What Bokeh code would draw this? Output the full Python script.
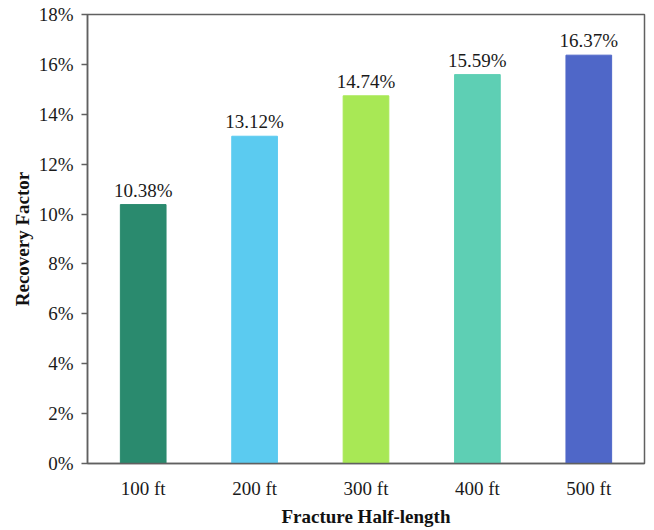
from bokeh.plotting import figure
from bokeh.models import ColumnDataSource, NumeralTickFormatter, FixedTicker
from bokeh.core.properties import value
from bokeh.embed import file_html
from bokeh.resources import INLINE

categories = ["100 ft", "200 ft", "300 ft", "400 ft", "500 ft"]
recovery = [0.1038, 0.1312, 0.1474, 0.1559, 0.1637]
labels = ["10.38%", "13.12%", "14.74%", "15.59%", "16.37%"]
colors = ["#2A8A6E", "#5BCBF0", "#A8E855", "#5ECFB4", "#4F67C8"]
y_ticks = [0, 0.02, 0.04, 0.06, 0.08, 0.10, 0.12, 0.14, 0.16, 0.18]

src = ColumnDataSource(dict(cat=categories, val=recovery, lab=labels, col=colors))

p = figure(x_range=categories, y_range=(0, 0.18), width=646, height=514,
           output_backend="svg", toolbar_location=None,
           min_border_left=87, min_border_right=2, min_border_top=14, min_border_bottom=4)
p.frame_width = 557
p.frame_height = 449

p.vbar(x="cat", top="val", width=0.41, color="col", source=src)
p.text(x="cat", y="val", text="lab", source=src, text_align="center",
       text_baseline="bottom", y_offset=-4, text_font=value("Liberation Serif"),
       text_font_size="19px", text_color="#1a1a1a")

p.xgrid.visible = False
p.ygrid.visible = False
p.outline_line_color = "#606060"
p.outline_line_width = 1.5

p.yaxis.ticker = FixedTicker(ticks=y_ticks)
p.yaxis.formatter = NumeralTickFormatter(format="0%")
p.yaxis.axis_line_color = "#606060"
p.yaxis.axis_line_width = 1.5
p.yaxis.major_tick_in = 0
p.yaxis.major_tick_out = 6
p.yaxis.major_tick_line_color = "#606060"
p.yaxis.major_tick_line_width = 1.5
p.yaxis.minor_tick_line_color = None
p.yaxis.major_label_standoff = 8
p.yaxis.axis_label = "Recovery Factor"
p.yaxis.axis_label_standoff = 3

p.xaxis.axis_line_color = "#606060"
p.xaxis.axis_line_width = 1.5
p.xaxis.major_tick_line_color = None
p.xaxis.minor_tick_line_color = None
p.xaxis.major_label_standoff = 8
p.xaxis.axis_label = "Fracture Half-length"
p.xaxis.axis_label_standoff = 4

for ax in (p.xaxis, p.yaxis):
    ax.major_label_text_font = "Liberation Serif"
    ax.major_label_text_font_size = "19px"
    ax.major_label_text_color = "#1a1a1a"
    ax.axis_label_text_font = "Liberation Serif"
    ax.axis_label_text_font_size = "19px"
    ax.axis_label_text_font_style = "bold"
    ax.axis_label_text_color = "#111111"

open("out.html", "w").write(file_html(p, INLINE))
